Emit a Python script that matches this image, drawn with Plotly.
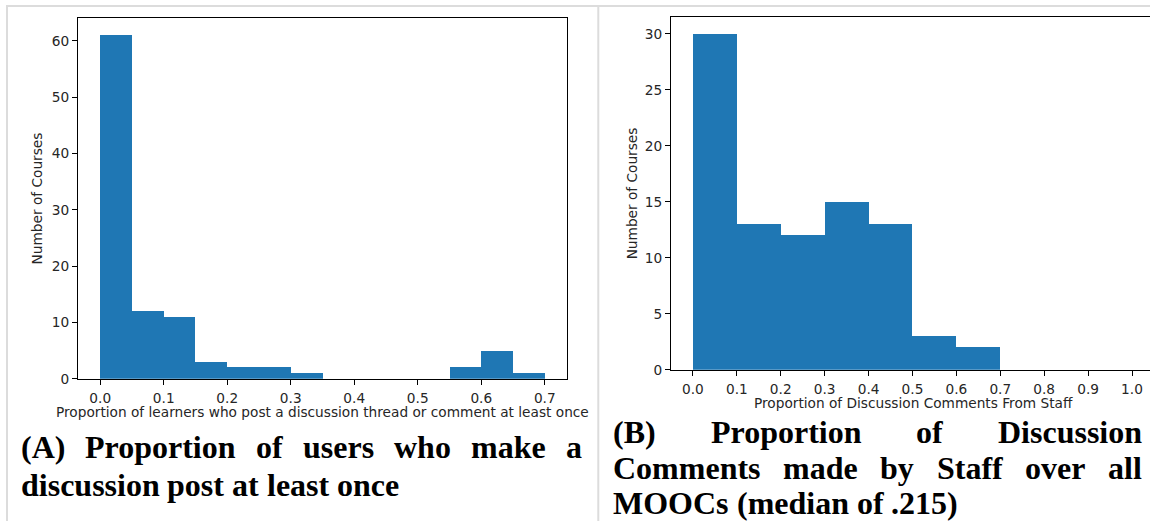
import plotly.graph_objects as go

# ---------------- data ----------------
# Panel A: proportion of learners who post at least once (bin width 0.05)
a_bin_edges = [0.0, 0.05, 0.10, 0.15, 0.20, 0.25, 0.30, 0.35, 0.40, 0.45, 0.50, 0.55, 0.60, 0.65, 0.70]
a_counts = [61, 12, 11, 3, 2, 2, 1, 0, 0, 0, 0, 2, 5, 1]
a_xticks = [0.0, 0.1, 0.2, 0.3, 0.4, 0.5, 0.6, 0.7]
a_yticks = [0, 10, 20, 30, 40, 50, 60]

# Panel B: proportion of discussion comments from staff (bin width 0.1)
b_bin_edges = [0.0, 0.1, 0.2, 0.3, 0.4, 0.5, 0.6, 0.7, 0.8, 0.9, 1.0]
b_counts = [30, 13, 12, 15, 13, 3, 2, 0, 0, 0]
b_xticks = [0.0, 0.1, 0.2, 0.3, 0.4, 0.5, 0.6, 0.7, 0.8, 0.9, 1.0]
b_yticks = [0, 5, 10, 15, 20, 25, 30]

a_xtitle = "Proportion of learners who post a discussion thread or comment at least once"
b_xtitle = "Proportion of Discussion Comments From Staff"
ytitle = "Number of Courses"
a_caption = [["(A)", "Proportion", "of", "users", "who", "make", "a"],
             ["discussion", "post", "at", "least", "once"]]
b_caption = [["(B)", "Proportion", "of", "Discussion"],
             ["Comments", "made", "by", "Staff", "over", "all"],
             ["MOOCs", "(median", "of", ".215)"]]

# ---------------- layout constants ----------------
W = 1150
H = 530          # rendered page height (captured view is squeezed to 521)
REF_H = 521      # reference picture height used for placement
BLUE = "#1f77b4"
TXT = "#262626"
TICKFONT = dict(family="DejaVu Sans", size=13.7, color=TXT)


def px_x(p):
    return p / W


def px_y(p):
    return 1 - p / REF_H


fig = go.Figure()

fig.add_trace(go.Bar(
    x=a_bin_edges[:-1], y=a_counts,
    width=[a_bin_edges[i + 1] - a_bin_edges[i] for i in range(len(a_counts))],
    offset=0, marker=dict(color=BLUE, line=dict(width=0)),
    xaxis="x", yaxis="y", showlegend=False, hoverinfo="skip"))

fig.add_trace(go.Bar(
    x=b_bin_edges[:-1], y=b_counts,
    width=[b_bin_edges[i + 1] - b_bin_edges[i] for i in range(len(b_counts))],
    offset=0, marker=dict(color=BLUE, line=dict(width=0)),
    xaxis="x2", yaxis="y2", showlegend=False, hoverinfo="skip"))

axis_common = dict(showgrid=False, zeroline=False, showline=True, linecolor="black",
                   linewidth=1.1, ticks="outside", ticklen=5, tickwidth=1.1,
                   tickcolor="black", tickfont=TICKFONT, fixedrange=True)

fig.update_layout(
    width=W, height=H, margin=dict(l=0, r=0, t=0, b=0),
    paper_bgcolor="white", plot_bgcolor="white", bargap=0,
    xaxis=dict(domain=[px_x(78), px_x(567)], range=[-0.035, 0.735],
               tickvals=a_xticks, tickformat=".1f", mirror=True, anchor="y",
               ticklabelstandoff=2, **axis_common),
    yaxis=dict(domain=[px_y(378), px_y(18)], range=[0, max(a_counts) * 1.05],
               tickvals=a_yticks, mirror=True, anchor="x", **axis_common),
    xaxis2=dict(domain=[px_x(671), 1.0], range=[-0.05, 1.041],
                tickvals=b_xticks, tickformat=".1f", mirror=True, anchor="y2",
                ticklabelstandoff=2, **axis_common),
    yaxis2=dict(domain=[px_y(369), px_y(17)], range=[0, max(b_counts) * 1.05],
                tickvals=b_yticks, mirror=False, anchor="x2", **axis_common),
)

# gray table borders
GRAY = "#dcdcdc"
shapes = [
    dict(type="line", xref="paper", yref="paper", x0=px_x(6), x1=1, y0=px_y(6), y1=px_y(6),
         line=dict(color=GRAY, width=2)),
    dict(type="line", xref="paper", yref="paper", x0=px_x(7), x1=px_x(7), y0=0, y1=px_y(5),
         line=dict(color=GRAY, width=2)),
    dict(type="line", xref="paper", yref="paper", x0=px_x(598.3), x1=px_x(598.3), y0=0, y1=px_y(5),
         line=dict(color=GRAY, width=2)),
]
fig.update_layout(shapes=shapes)

annotations = []
# axis titles
for (x, y, txt, ang) in [(37, 198, ytitle, -90), (632, 193, ytitle, -90),
                         (322.5, 411, a_xtitle, 0), (913, 402, b_xtitle, 0)]:
    annotations.append(dict(x=px_x(x), y=px_y(y), xref="paper", yref="paper", text=txt,
                            textangle=ang, showarrow=False, xanchor="center", yanchor="middle",
                            font=TICKFONT, borderpad=0))

# Times-Bold glyph widths (per 1000 em) used to justify the caption lines
TB = {" ": 250, "(": 333, ")": 333, ".": 250, "1": 500, "2": 500, "5": 500,
      "A": 722, "B": 667, "C": 722, "D": 722, "M": 944, "O": 778, "P": 611, "S": 556,
      "a": 500, "b": 556, "c": 444, "d": 556, "e": 444, "f": 333, "h": 556, "i": 278,
      "k": 556, "l": 278, "m": 833, "n": 556, "o": 500, "p": 556, "r": 444, "s": 389,
      "t": 333, "u": 556, "v": 500, "w": 722, "y": 500}
CAP_SIZE = 32


def wwidth(word):
    return sum(TB[c] for c in word) / 1000 * CAP_SIZE


def place_line(words, x0, x1, ycen, justify=True):
    widths = [wwidth(w) for w in words]
    if justify and len(words) > 1:
        gap = (x1 - x0 - sum(widths)) / (len(words) - 1)
    else:
        gap = TB[" "] / 1000 * CAP_SIZE
    x = x0
    for w, wd in zip(words, widths):
        annotations.append(dict(x=px_x(x), y=px_y(ycen), xref="paper", yref="paper", text=w,
                                showarrow=False, xanchor="left", yanchor="middle",
                                borderpad=0, borderwidth=0,
                                font=dict(family="Liberation Serif", size=CAP_SIZE,
                                          color="black", weight="bold")))
        x += wd + gap


place_line(a_caption[0], 20.5, 582, 446.5)
place_line(a_caption[1], 20.5, 582, 484, justify=False)
place_line(b_caption[0], 613, 1142, 431)
place_line(b_caption[1], 613, 1142, 467)
place_line(b_caption[2], 613, 1142, 502, justify=False)

fig.update_layout(annotations=annotations)

fig.write_html("out.html")
